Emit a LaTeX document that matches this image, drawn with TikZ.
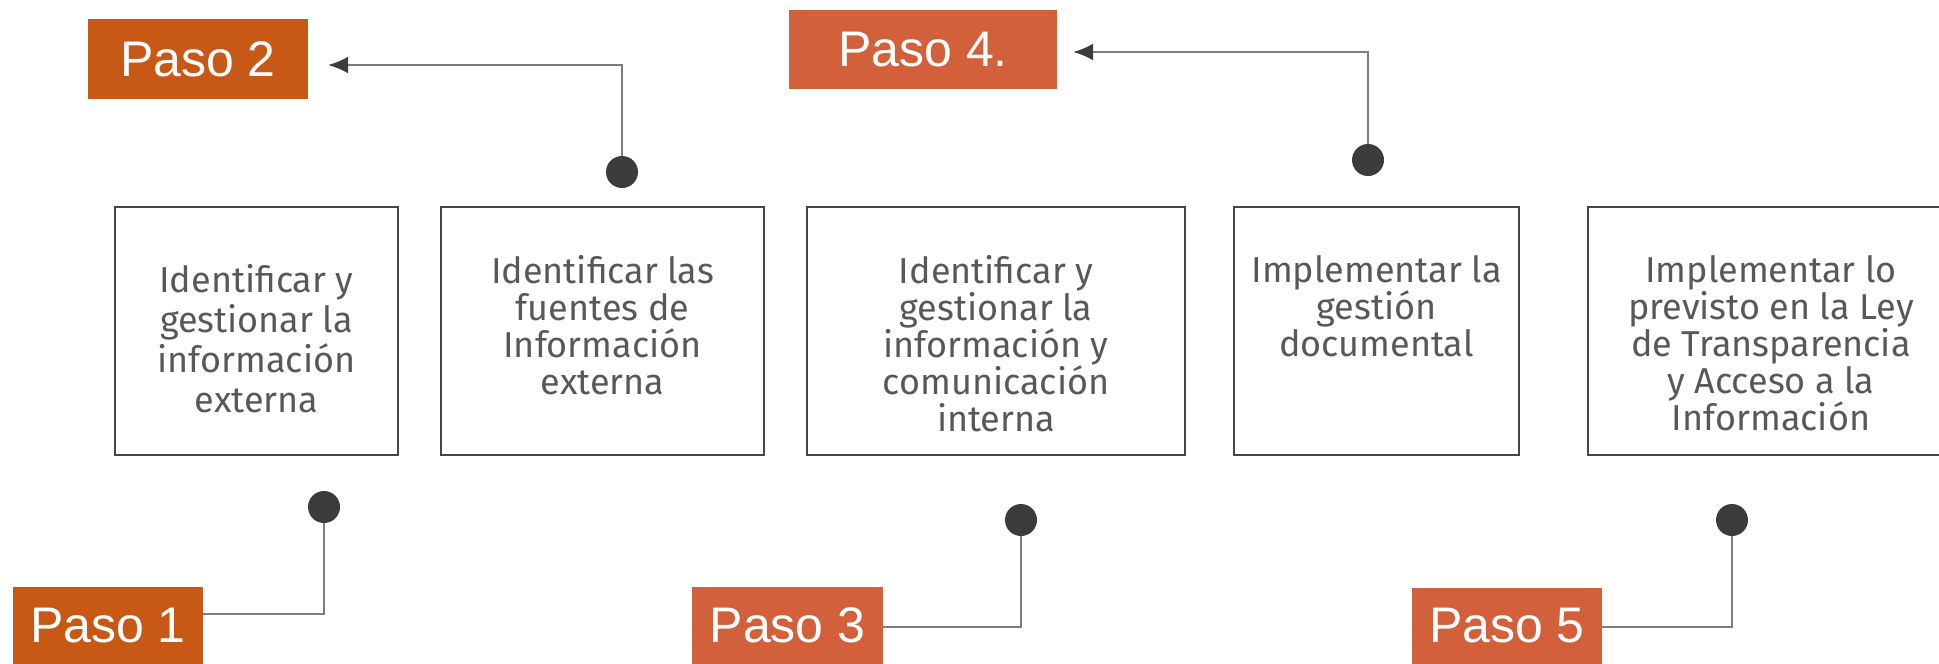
\documentclass[tikz,border=0pt]{standalone}
\usepackage{fontspec}
\setmainfont{Fira Sans}
\newfontfamily\pasofont{Liberation Sans}
\usetikzlibrary{positioning,arrows.meta}
\definecolor{naranja}{RGB}{200,88,22}
\definecolor{naranjaclaro}{RGB}{210,96,58}
\definecolor{bordegris}{RGB}{70,70,70}
\definecolor{lineagris}{RGB}{125,125,125}
\definecolor{puntogris}{RGB}{60,60,60}
\definecolor{textogris}{RGB}{88,88,88}

\begin{document}
\begin{tikzpicture}[x=1pt,y=-1pt,
    caja/.style={draw=bordegris, line width=2.6pt, minimum height=248pt, inner sep=0pt},
    texto/.style={anchor=north, align=center, inner sep=0pt, text=textogris, font=\fontsize{36}{37}\selectfont},
    paso/.style={fill=#1, text=white, minimum height=77pt, inner sep=0pt, font=\pasofont\fontsize{50}{60}\selectfont},
    punto/.style={circle, fill=puntogris, minimum size=32pt, inner sep=0pt},
    linea/.style={draw=lineagris, line width=2pt},
    flecha/.style={linea, -{Latex[length=20pt,width=17pt,color=puntogris]}}]
  \useasboundingbox (0,0) rectangle (1939,664);
  % Cajas
  \node[caja, minimum width=283pt] (c1) at (256.5,331) {};
  \node[caja, minimum width=323pt] (c2) at (602.5,331) {};
  \node[caja, minimum width=378pt] (c3) at (996,331) {};
  \node[caja, minimum width=285pt] (c4) at (1376.5,331) {};
  \node[caja, minimum width=362pt] (c5) at (1769,331) {};
  % Textos
  \node[texto, font=\fontsize{36}{40}\selectfont] (t1) at (256.5,264) {Identificar y\\gestionar la\\información\\externa};
  \node[texto] (t2) at (602.5,255) {Identificar las\\fuentes de\\Información\\externa};
  \node[texto] (t3) at (996,255) {Identificar y\\gestionar la\\información y\\comunicación\\interna};
  \node[texto] (t4) at (1376.5,255) {Implementar la\\gestión\\documental};
  \node[texto] (t5) at (1771,255) {Implementar lo\\previsto en la Ley\\de Transparencia\\y Acceso a la\\Información};
  % Pasos
  \node[paso=naranja, minimum width=190pt] (paso1) at (108,625.5) {Paso 1};
  \node[paso=naranja, minimum width=220pt, minimum height=80pt] (paso2) at (198,59) {Paso 2};
  \node[paso=naranjaclaro, minimum width=191pt] (paso3) at (787.5,625.5) {Paso 3};
  \node[paso=naranjaclaro, minimum width=268pt, minimum height=79pt] (paso4) at (923,49.5) {Paso 4.};
  \node[paso=naranjaclaro, minimum width=190pt] (paso5) at (1507,626) {Paso 5};
  % Puntos
  \node[punto] (p1) at (324,507) {};
  \node[punto] (p2) at (622,172) {};
  \node[punto] (p3) at (1021,520) {};
  \node[punto] (p4) at (1368,160) {};
  \node[punto] (p5) at (1732,520) {};
  % Conectores
  \draw[linea] (p1) |- ([yshift=11.5pt]paso1.east);
  \draw[flecha] (p2) |- ([xshift=20pt,yshift=-6pt]paso2.east);
  \draw[linea] (p3) |- ([yshift=-1.5pt]paso3.east);
  \draw[flecha] (p4) |- ([xshift=16pt,yshift=-2.5pt]paso4.east);
  \draw[linea] (p5) |- ([yshift=-1pt]paso5.east);
\end{tikzpicture}
\end{document}
